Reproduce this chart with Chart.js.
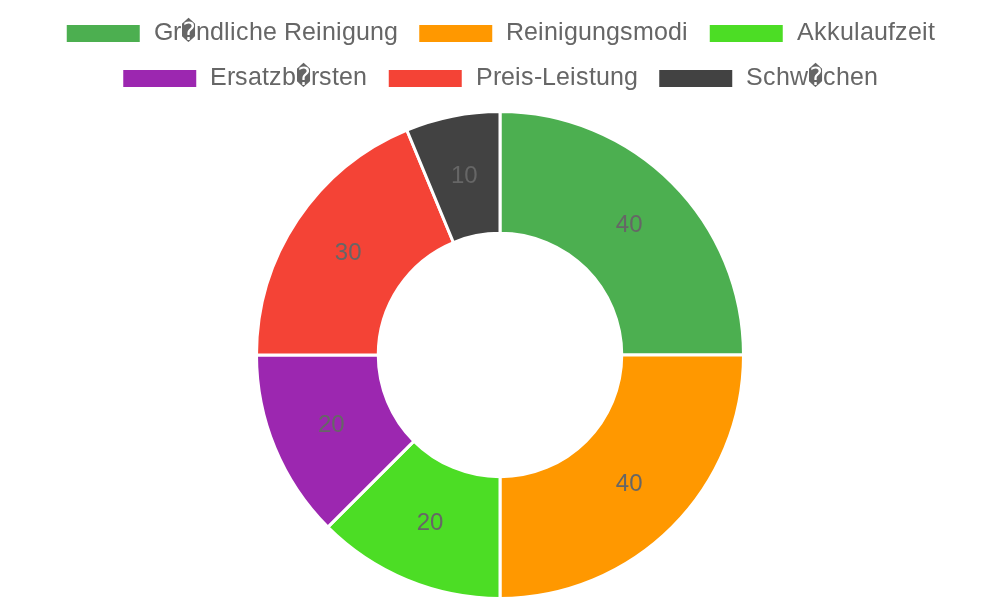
<!DOCTYPE html>
<html>
<head>
<meta charset="utf-8">
<script src="https://cdn.jsdelivr.net/npm/chart.js@4"></script>
<style>
@font-face { font-family: 'LegendFont'; src: local('DejaVu Sans Mono'), local('DejaVuSansMono'); unicode-range: U+FFFD; }
@font-face { font-family: 'LegendFont'; src: local('Liberation Sans'), local('LiberationSans'); unicode-range: U+0000-FFFC; }
html,body{margin:0;padding:0;background:#fff;}
#wrap{width:1000px;height:600px;}
</style>
</head>
<body>
<div id="wrap"><canvas id="c"></canvas></div>
<script>
const categories = ["Gr\uFFFDndliche Reinigung", "Reinigungsmodi", "Akkulaufzeit", "Ersatzb\uFFFDrsten", "Preis-Leistung", "Schw\uFFFDchen"];
const values = [40, 40, 20, 20, 30, 10];
const colors = ["#4CAF50", "#FF9800", "#4CDD25", "#9C27B0", "#F44336", "#424242"];

const labelPlugin = {
  id: 'sliceLabels',
  afterDatasetsDraw(chart) {
    const ctx = chart.ctx;
    const meta = chart.getDatasetMeta(0);
    ctx.save();
    ctx.font = '24px "Liberation Sans", Arial, sans-serif';
    ctx.fillStyle = '#666';
    ctx.textAlign = 'center';
    ctx.textBaseline = 'middle';
    meta.data.forEach((arc, i) => {
      const p = arc.tooltipPosition();
      ctx.fillText(String(chart.data.datasets[0].data[i]), p.x, p.y);
    });
    ctx.restore();
  }
};

const legendSpacer = {
  id: 'legendSpacer',
  beforeInit(chart) {
    const origFit = chart.legend.fit;
    chart.legend.fit = function () {
      origFit.call(this);
      this.height += 9;
    };
  }
};

function draw() {
  new Chart(document.getElementById('c'), {
    type: 'doughnut',
    data: {
      labels: categories,
      datasets: [{
        data: values,
        backgroundColor: colors,
        borderColor: '#fff',
        borderWidth: 3
      }]
    },
    options: {
      responsive: true,
      maintainAspectRatio: false,
      animation: false,
      cutout: '50%',
      layout: { padding: { top: 1 } },
      plugins: {
        legend: {
          position: 'top',
          labels: {
            font: { size: 25, family: 'LegendFont, "Liberation Sans", Arial, sans-serif' },
            color: '#666',
            boxWidth: 76,
            boxHeight: 20,
            padding: 20
          }
        },
        tooltip: { enabled: false }
      }
    },
    plugins: [labelPlugin, legendSpacer]
  });
}

Promise.all([
  document.fonts.load('25px LegendFont', 'Gr\uFFFDnd')
]).then(draw, draw);
</script>
</body>
</html>
